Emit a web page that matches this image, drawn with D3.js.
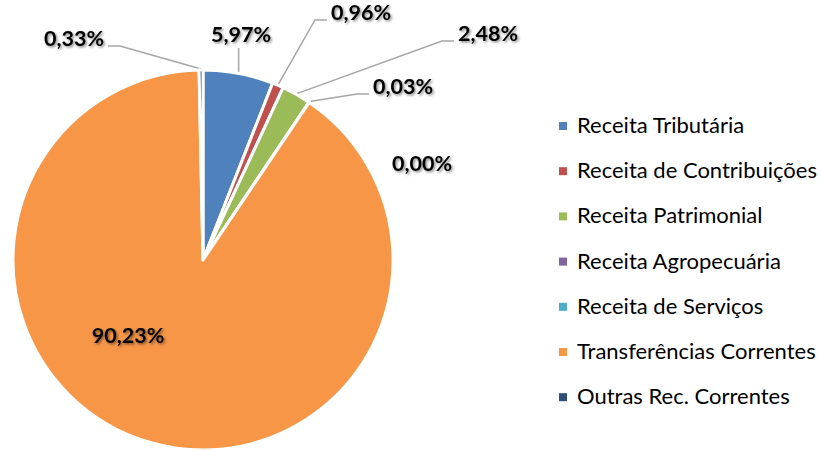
<!DOCTYPE html>
<html>
<head>
<meta charset="utf-8">
<script src="https://cdn.jsdelivr.net/npm/d3@7"></script>
<style>
	html, body { margin: 0; padding: 0; background: #fff; }
	svg { display: block; }
	.lbl { font-family: Lato, "Open Sans", sans-serif; font-weight: bold; font-size: 21.5px; fill: #000; }
	.leg { font-family: Lato, "Open Sans", sans-serif; font-size: 22px; fill: #000; }
</style>
</head>
<body>
<svg id="chart"></svg>
<script>
;(() => {
	'use strict';

	const width = 822,
		height = 451;

	// data
	const categories = ['Receita Tributária', 'Receita de Contribuições', 'Receita Patrimonial',
		'Receita Agropecuária', 'Receita de Serviços', 'Transferências Correntes', 'Outras Rec. Correntes'];
	const shares = [5.97, 0.96, 2.48, 0.03, 0.00, 90.23, 0.33];
	const labels = ['5,97%', '0,96%', '2,48%', '0,03%', '0,00%', '90,23%', '0,33%'];
	const colors = ['#4f81bd', '#c0504d', '#9bbb59', '#8064a2', '#4bacc6', '#f79646', '#2c4d75'];

	// label layout (x centre, baseline, leader side)
	const labelLayout = [
		[241, 42, 'up'],
		[361, 20, 'right'],
		[488, 41, 'right'],
		[403, 94, 'right'],
		[422, 171, 'none'],
		[128, 343, 'none'],
		[74, 46, 'left']
	];

	const cx = 203,
		cy = 260,
		radius = 190;

	const svg = d3.select('#chart')
		.attr('width', width)
		.attr('height', height);

	const defs = svg.append('defs');
	defs.append('filter')
		.attr('id', 'shadow')
		.attr('x', '-20%').attr('y', '-40%')
		.attr('width', '150%').attr('height', '180%')
		.append('feDropShadow')
		.attr('dx', 1.5)
		.attr('dy', 1.5)
		.attr('stdDeviation', 1)
		.attr('flood-color', '#000')
		.attr('flood-opacity', 0.45);

	const data = categories.map((c, i) => ({ name: c, value: shares[i], label: labels[i], color: colors[i], pos: labelLayout[i] }));

	const pie = d3.pie()
		.sort(null)
		.value(d => d.value);

	const arcs = pie(data);

	const arc = d3.arc()
		.innerRadius(0)
		.outerRadius(radius);

	const edgeArc = d3.arc()
		.innerRadius(radius + 1)
		.outerRadius(radius + 1);

	const g = svg.append('g')
		.attr('transform', `translate(${cx},${cy})`);

	g.selectAll('path.slice')
		.data(arcs)
		.enter()
		.append('path')
		.attr('class', 'slice')
		.attr('d', arc)
		.attr('fill', d => d.data.color)
		.attr('stroke', '#fff')
		.attr('stroke-width', 3)
		.attr('stroke-linejoin', 'round');

	// labels
	const lblG = svg.append('g');
	const texts = lblG.selectAll('text')
		.data(arcs)
		.enter()
		.append('text')
		.attr('class', 'lbl')
		.attr('x', d => d.data.pos[0])
		.attr('y', d => d.data.pos[1])
		.attr('text-anchor', 'middle')
		.attr('filter', 'url(#shadow)')
		.text(d => d.data.label);

	// leader lines
	const lineG = svg.insert('g', 'g');
	texts.each(function(d) {
		const side = d.data.pos[2];
		if (side === 'none') return;
		const bb = this.getBBox(),
			c = edgeArc.centroid(d),
			p0 = [cx + c[0], cy + c[1]],
			y = d.data.pos[1];
		let pts;
		if (side === 'up') {
			pts = [p0, [p0[0], y + 6]];
		} else if (side === 'right') {
			const ex = bb.x - 4;
			pts = [p0, [ex - 12, y], [ex, y]];
		} else {
			const ex = bb.x + bb.width + 4;
			pts = [p0, [ex + 12, y], [ex, y]];
		}
		lineG.append('path')
			.attr('d', d3.line()(pts))
			.attr('fill', 'none')
			.attr('stroke', '#a6a6a6')
			.attr('stroke-width', 1.5);
	});

	// legend
	const legend = svg.append('g')
		.attr('transform', 'translate(559,122)');

	const rowH = 45.2;

	const rows = legend.selectAll('g')
		.data(data)
		.enter()
		.append('g')
		.attr('transform', (d, i) => `translate(0,${i * rowH})`);

	rows.append('rect')
		.attr('width', 8)
		.attr('height', 8)
		.attr('fill', d => d.color);

	rows.append('text')
		.attr('class', 'leg')
		.attr('x', 18)
		.attr('y', 11)
		.text(d => d.name);

})();
</script>
</body>
</html>
